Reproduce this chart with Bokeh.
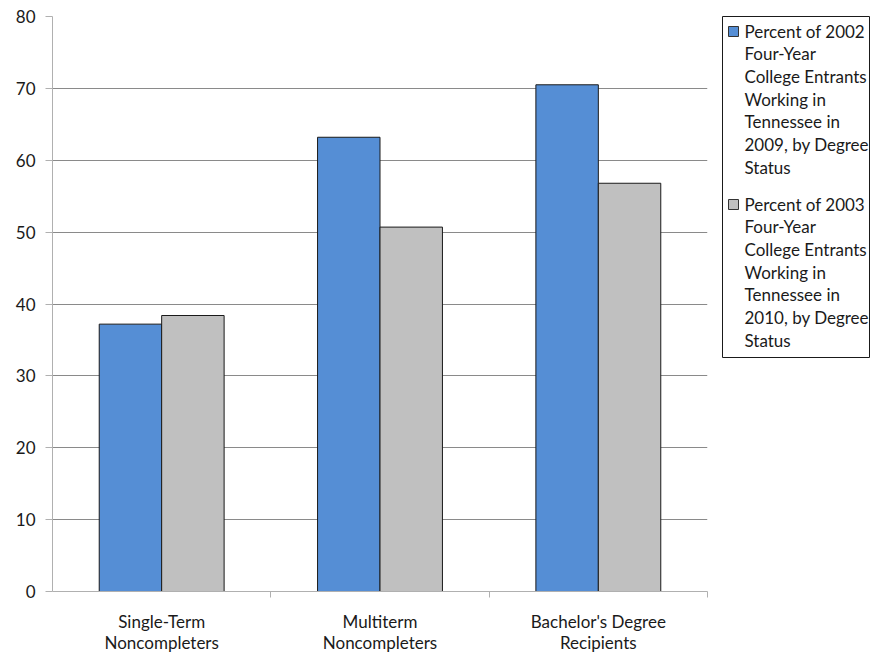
from bokeh.plotting import figure
from bokeh.layouts import row
from bokeh.models import ColumnDataSource, Range1d, FixedTicker
from bokeh.core.properties import value
from bokeh.transform import dodge
from bokeh.embed import file_html
from bokeh.resources import INLINE

categories = ["Single-Term\nNoncompleters", "Multiterm\nNoncompleters", "Bachelor's Degree\nRecipients"]
series_2002 = [37.2, 63.2, 70.5]
series_2003 = [38.4, 50.7, 56.8]
labels = ["Percent of 2002\nFour-Year\nCollege Entrants\nWorking in\nTennessee in\n2009, by Degree\nStatus",
          "Percent of 2003\nFour-Year\nCollege Entrants\nWorking in\nTennessee in\n2010, by Degree\nStatus"]
colors = ["#558ED5", "#C0C0C0"]
y_ticks = [0, 10, 20, 30, 40, 50, 60, 70, 80]

FONT = "Lato"
FS = "17px"
TEXT_COLOR = "#1a1a1a"

centers = [i + 0.5 for i in range(len(categories))]
src = ColumnDataSource(dict(x=centers, a=series_2002, b=series_2003))

p = figure(frame_width=655, frame_height=575, output_backend="svg", toolbar_location=None,
           x_range=Range1d(0, len(categories)), y_range=Range1d(0, 80),
           min_border_left=52, min_border_top=16, min_border_bottom=65, min_border_right=7)
p.outline_line_color = None

w = 0.286
p.vbar(x=dodge("x", -w / 2, range=p.x_range), top="a", width=w, source=src,
       fill_color=colors[0], line_color="#1a1a1a", line_width=1)
p.vbar(x=dodge("x", w / 2, range=p.x_range), top="b", width=w, source=src,
       fill_color=colors[1], line_color="#1a1a1a", line_width=1)

p.xgrid.visible = False
p.ygrid.grid_line_color = "#8a8a8a"
p.ygrid.grid_line_width = 1

p.yaxis.ticker = FixedTicker(ticks=y_ticks)
p.yaxis.axis_line_color = "#b0b0b0"
p.yaxis.major_tick_line_color = "#b0b0b0"
p.yaxis.major_tick_out = 7
p.yaxis.major_tick_in = 0
p.yaxis.minor_tick_line_color = None
p.yaxis.major_label_text_font = FONT
p.yaxis.major_label_text_font_size = FS
p.yaxis.major_label_text_color = TEXT_COLOR
p.yaxis.major_label_standoff = 10

p.xaxis.ticker = FixedTicker(ticks=centers, minor_ticks=[1, 2, 3])
p.xaxis.major_label_overrides = {c: lab for c, lab in zip(centers, categories)}
p.xaxis.axis_line_color = "#b0b0b0"
p.xaxis.major_tick_line_color = None
p.xaxis.minor_tick_line_color = "#b0b0b0"
p.xaxis.minor_tick_out = 6
p.xaxis.minor_tick_in = 0
p.xaxis.major_label_text_font = FONT
p.xaxis.major_label_text_font_size = FS
p.xaxis.major_label_text_color = TEXT_COLOR
p.xaxis.major_label_text_line_height = 1.0
p.xaxis.major_label_standoff = 13

# Legend panel (pixel-like coordinates, y pointing down)
leg = figure(frame_width=147, frame_height=341, output_backend="svg", toolbar_location=None,
             x_range=Range1d(0, 147), y_range=Range1d(341, 0),
             x_axis_location=None, y_axis_location=None,
             min_border_left=8, min_border_right=1, min_border_top=16, min_border_bottom=299)
leg.grid.visible = False
leg.outline_line_color = "#1a1a1a"
leg.outline_line_width = 1
item_top = [15, 188]
leg.rect(x=[11, 11], y=item_top, width=10, height=10, fill_color=colors,
         line_color="#333333", line_width=1)
leg.text(x=[22, 22], y=[t - 11 for t in item_top], text=labels,
         text_font=value(FONT), text_font_size=FS, text_color=TEXT_COLOR,
         text_baseline="top", text_align="left", text_line_height=1.083)

layout = row(p, leg, spacing=0)
open("out.html", "w").write(file_html(layout, INLINE))
